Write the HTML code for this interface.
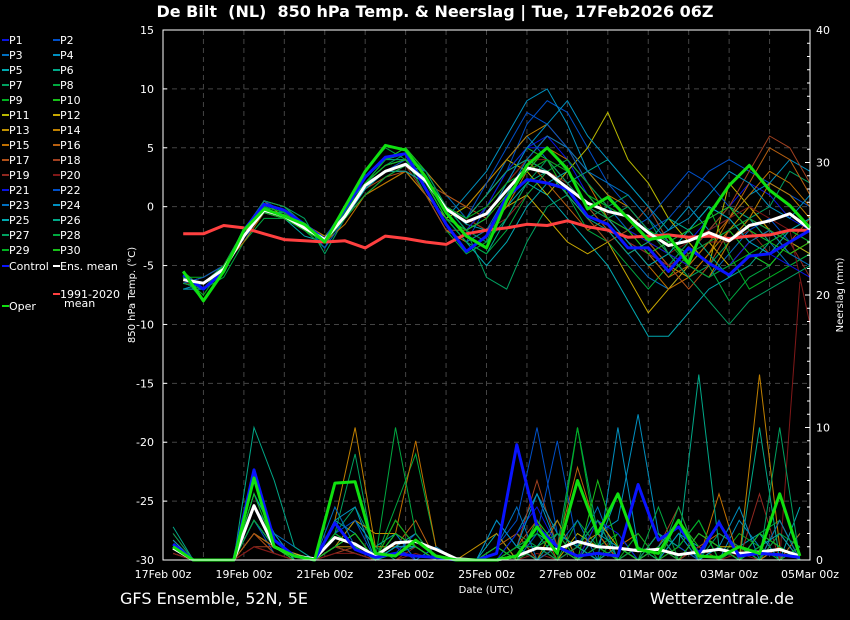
<!DOCTYPE html>
<html><head><meta charset="utf-8">
<style>
html,body{margin:0;padding:0;background:#000;}
#wrap{position:relative;width:850px;height:620px;background:#000;overflow:hidden;font-family:"DejaVu Sans","Liberation Sans",sans-serif;}
svg text{font-family:"DejaVu Sans","Liberation Sans",sans-serif;fill:#fff;}
</style></head>
<body>
<div id="wrap">
<svg id="chart" width="850" height="620" xmlns="http://www.w3.org/2000/svg">
<text x="435" y="17" text-anchor="middle" font-size="16" font-weight="bold" style="white-space:pre" xml:space="preserve">De Bilt  (NL)  850 hPa Temp. &amp; Neerslag | Tue, 17Feb2026 06Z</text>
<text x="120" y="604" font-size="16">GFS Ensemble, 52N, 5E</text>
<text x="794" y="604" font-size="16" text-anchor="end">Wetterzentrale.de</text>
<text x="486" y="593" font-size="10" text-anchor="middle">Date (UTC)</text>
<text transform="translate(135,295) rotate(-90)" font-size="10" text-anchor="middle">850 hPa Temp. (°C)</text>
<text transform="translate(843,295) rotate(-90)" font-size="10" text-anchor="middle">Neerslag (mm)</text>
<g id="grid"></g>
<g id="precip"></g>
<g id="temps"></g>
<g id="axes"></g>
<g id="legend"></g>
</svg>
</div>
<script>
// ---- data ----
const tempStartDay = 0.5;
const tempStepDay = 0.5;
const precipStartDay = 0.25;
const precipStepDay = 0.5;
const xTickLabels = ["17Feb 00z","19Feb 00z","21Feb 00z","23Feb 00z","25Feb 00z","27Feb 00z","01Mar 00z","03Mar 00z","05Mar 00z"];
const yTicks = [15,10,5,0,-5,-10,-15,-20,-25,-30];
const y2Ticks = [40,30,20,10,0];

const ensMean = [-6.2,-6.5,-5.3,-2.5,-0.3,-0.8,-1.8,-2.8,-0.8,1.8,3.0,3.6,2.2,-0.2,-1.3,-0.6,1.4,3.3,2.9,1.6,0.3,-0.4,-0.8,-2.2,-3.3,-2.9,-2.2,-2.9,-1.6,-1.2,-0.6,-1.9];
const control = [-5.8,-7,-5.5,-2,0.2,-0.3,-1.5,-2.8,-0.2,2.5,4.2,4.5,1.5,-1.5,-3.8,-2.5,0.8,2.3,2,1.5,-0.8,-1.5,-3.5,-3.5,-5.5,-3.5,-4.8,-5.8,-4.2,-4,-3,-2];
const oper = [-5.5,-8,-5.5,-2,-0.2,-0.8,-1.5,-3,0,3,5.2,4.8,2.5,-0.5,-2.5,-3.5,0.5,3.5,5,3.2,-0.2,0.8,-1,-2.8,-2.5,-4.8,-0.7,1.8,3.5,1.4,0.1,-1.8];
const climate = [-2.3,-2.3,-1.6,-1.8,-2.3,-2.8,-2.9,-3.0,-2.9,-3.5,-2.5,-2.7,-3.0,-3.2,-2.3,-2.0,-1.8,-1.5,-1.6,-1.2,-1.7,-2.0,-2.6,-2.5,-2.4,-2.6,-2.5,-2.7,-2.5,-2.4,-2.0,-2.0];

const P1=[-6,-7,-5,-2,0.5,-0.5,-2,-3,-0.5,2,4,4.5,2.5,0,-2,-1,2,5,6,4,1,-1,-3,-4,-5,-3,-1,0,2,1,-1,-2];
const P2=[-6.5,-6,-5,-3,0,-1,-1.5,-3,-1,2,3.5,4,1,-2,-3,0,3,7,9,8,5,2,0,-2,-1,1,3,4,3,2,1,0];
const P3=[-6,-7,-5.5,-2,-0.5,-0.5,-2,-2.5,-1,1.5,3,3.5,3,1,-1,1,4,6,4,2,0,-2,-4,-6,-7,-5,-6,-4,-2,-3,-5,-4];
const P4=[-7,-6.5,-5,-2.5,0,-1,-2,-3.5,0,2,3,3,1,-1,1,3,6,9,10,7,3,1,-1,-3,-2,0,-2,-1,1,2,4,3];
const P5=[-6,-6.5,-5,-2,0,-1,-2.5,-3,-1,1.5,3,3.5,2.5,0,-1.5,-2,0,2,1,-1,-3,-5,-8,-11,-11,-9,-7,-6,-4,-5,-3,-4];
const P6=[-6.5,-7,-5,-2.5,-0.5,-0.5,-1.5,-3,-0.5,2.5,4,4,2,-1,-3,-4,-1,2,3,2,3,4,2,0,-3,-4,-2,0,-1,-3,-2,-1];
const P7=[-6,-8,-5.5,-2,0.5,0,-1,-4,-1,2,4,5,3,0,-2,-6,-7,-3,0,1,-1,0,1,-1,-4,-6,-5,-3,-1,0,3,2];
const P8=[-7,-7,-6,-3,-1,-1,-2,-3,0,3,5,4,1,-2,-4,-3,1,4,3,1,-2,-3,-5,-7,-5,-3,-5,-8,-6,-5,-3,-2];
const P9=[-6,-6,-5,-2,0.5,-0.5,-2,-3.5,-1,2,3.5,4,2,-1,-2,-1,2,3,5,3,1,0,-2,-3,-4,-2,0,-4,-7,-6,-5,-4];
const P10=[-5.5,-7,-5,-2.5,0,-1,-2,-2.5,-0.5,2,4,5,3,0,-1,1,3,5,4,1,-1,-3,-2,-4,-6,-4,-3,-2,-4,-5,-3,-2];
const P11=[-6,-6.5,-5,-2.5,0.5,-1,-2,-3,-1,1,2,3,1,-1,0,2,4,3,1,3,5,8,4,2,-1,-3,-5,2,0,-2,-4,-3];
const P12=[-6.5,-7,-5.5,-2.5,0,-0.5,-1.5,-3,-1,1.5,3,3,2,0,-1,-2,0,1,-1,-3,-4,-3,-6,-9,-7,-5,-3,-5,-3,-2,-3,-4];
const P13=[-6,-6.5,-5,-2,0,-1,-2,-3,-1,1,2.5,3.5,2,-1,-2,0,2,4,6,5,2,0,-1,-3,-5,-6,-4,-2,0,-2,-4,-3];
const P14=[-6.5,-6,-5,-2,0.5,0,-1.5,-2.5,-1,2,3,4,3,1,0,2,4,6,7,5,3,1,0,-2,-4,-5,-6,-3,-1,2,1,-1];
const P15=[-6,-7,-5,-3,-0.5,-1,-2,-3,-1.5,1,2,3,1,-2,-3,-2,0,3,5,4,2,-1,-3,-5,-7,-6,-4,-1,1,3,2,0];
const P16=[-6,-6.5,-5.5,-2.5,0,-0.5,-2,-3,-1,2,3.5,4,2,0,-1,1,3,4,2,0,-2,-1,-3,-4,-6,-5,-3,-1,2,5,4,1];
const P17=[-6.5,-7,-5,-2,0,-1,-2,-3,-1,1.5,2.5,3,2,1,0,-1,1,3,4,2,0,-2,-4,-3,-5,-7,-5,-2,-1,-2,-3,-1];
const P18=[-6,-6.5,-5,-2.5,-0.5,-1,-2,-3,0,2,3,3.5,1,-2,-2,0,2,4,3,1,-1,-3,-2,0,-3,-4,-2,0,3,6,5,2];
const P19=[-6,-7,-5,-2,0,-0.5,-1.5,-3,-1,1.5,3,3.5,2,0,-1,-2,-1,1,3,2,0,-1,-3,-4,-5,-4,-3,-3,-2,-4,-3,-6];
const P20=[-6.5,-6.5,-5.5,-2.5,0,-1,-2,-3,-1,2,3,3,2,-1,-2,-1,2,4,4,3,1,-1,-2,-3,-4,-3,-2,-1,0,-1,-2,-10];
const P21=[-6,-7,-5.5,-2,0.5,-0.5,-2,-3,-0.5,2,3.5,4,2,-1,-2,0,3,5,5,3,1,-1,-2,-3,-4,-5,-6,-5,-3,-4,-5,-6];
const P22=[-6.5,-6,-5,-2.5,0,-1,-1.5,-3.5,-1,1.5,3,4,3,0,-1,2,5,8,7,5,2,0,-2,-1,1,3,2,0,-2,-1,-3,-2];
const P23=[-6,-6.5,-5,-2,0,-0.5,-2,-3,-1,2,4,4.5,2,-1,-3,-2,1,4,6,5,3,2,1,-1,-3,-2,0,-1,-3,-2,-4,-5];
const P24=[-7,-7,-5,-2.5,-0.5,-1,-2,-3,0,2,3,3.5,2,0,-2,-1,2,5,7,9,6,4,2,0,-2,-1,1,3,2,0,-1,1];
const P25=[-6,-6.5,-5.5,-2,0,-0.5,-2,-3,-1,1.5,3,3,2,-1,-3,-5,-3,0,2,3,1,-1,-3,-5,-4,-2,0,-1,-3,-4,-2,-1];
const P26=[-6.5,-7,-5,-2.5,0,-1,-2,-3,-0.5,2,3.5,4,2,0,-1,1,3,4,3,1,-1,-2,-4,-3,-1,-2,-4,-6,-5,-3,-2,-3];
const P27=[-6,-6.5,-5,-2,0.5,0,-1.5,-3,-1,2,3.5,4.5,3,0,-2,-3,-1,2,4,2,0,-1,0,-2,-4,-6,-8,-10,-8,-7,-6,-5];
const P28=[-6.5,-7,-5.5,-2.5,0,-1,-2,-3,-1,1,2.5,3.5,2,-1,-3,-4,-2,1,3,4,2,0,-1,-2,-3,-4,-3,-2,-1,-2,-3,-2];
const P29=[-6,-7.5,-5,-2,0,-0.5,-2,-3,-0.5,2,4,4.5,2.5,0,-1,0,2,3,4,3,1,0,-1,-2,-3,-5,-6,-5,-4,-3,-2,-3];
const P30=[-6,-7,-5,-2.5,-0.5,-1,-2,-3,-1,2,3.5,4,2,-1,-2,-1,1,3,5,3,1,-1,-2,-4,-3,-2,-1,0,-2,-3,-4,-3];
const members=[P1,P2,P3,P4,P5,P6,P7,P8,P9,P10,P11,P12,P13,P14,P15,P16,P17,P18,P19,P20,P21,P22,P23,P24,P25,P26,P27,P28,P29,P30];

const precipMean=[0.9,0,0,0,4.1,1,0.3,0.1,1.7,1.2,0.3,1.3,1.4,0.8,0.1,0,0,0.3,0.9,0.8,1.4,1.0,0.9,0.7,0.8,0.4,0.6,0.8,0.5,0.6,0.8,0.3];
const precipControl=[1.2,0,0,0,6.8,1.5,0.3,0,2.8,0.8,0.2,0.5,0.3,0.2,0,0,0.5,8.7,2.5,1,0.3,0.5,0.3,5.7,1.5,2.5,0.5,2.8,0.3,0.5,0.4,0.2];
const precipOper=[1.0,0,0,0,6.2,1,0.3,0,5.8,5.9,0.5,0.3,1.5,0.3,0,0,0,0.3,2.5,0.5,6.0,2,5,0.8,0.5,3,0.3,0.2,1,0.5,5,0.3];
const R1=[1,0,0,0,5,1,0,0,1,2,0,1,1,0,0,0,0,1,2,0,1,3,0,0,1,0,0,0,1,0,2,0];
const R2=[0.5,0,0,0,3,0.5,0,0,2,1,0,0.5,2,0,0,0,1,3,10,2,1,0,1,0,2,1,0,3,0,1,0,1];
const R3=[1,0,0,0,4,2,1,0,1,0.5,0,1,0,1,0,0,3,1,0,2,1,4,0,1,0,1,3,0,1,0,1,0];
const R4=[0.5,0,0,0,2,1,0,0,3,2,0,1,1,0,0,0,0,2,5,1,0,2,3,11,2,0,1,0,3,1,0,2];
const R5=[1,0,0,0,3,1,0.5,0,1,3,1,2,0,0,0,0,2,0,1,3,0,1,5,1,0,2,1,0,1,2,0,4];
const R6=[2.5,0,0,0,10,6,1,0,2,1,0,0.5,1,0,0,0,0,1,0,2,1,3,0,0,1,0,0,1,0,10,0,2];
const R7=[1,0,0,0,3,1,0,0,2,4,1,0,0,0,0,0,1,0,3,1,10,2,0,1,0,2,0,0,1,0,1,0];
const R8=[0.5,0,0,0,5,2,0,0,1,2,0,4,8,1,0,0,0,2,1,0,3,1,2,0,4,0,1,0,0,2,3,0];
const R9=[1,0,0,0,4,1,0,0,1,2,0,3,1,0,0,0,1,0,2,1,0,0,2,0,0,1,3,0,2,1,0,1];
const R10=[0.5,0,0,0,2,1,0,0,1,1,0,2,1,0,0,0,0,1,1,2,0,1,0,1,0,3,1,0,0,2,1,0];
const R11=[1,0,0,0,3,1,0,0,1,0.5,0,1,2,0,0,0,0,0,1,0,2,1,0,1,0,0,2,1,0,0,3,0];
const R12=[1.5,0,0,0,4,1,0.5,0,2,1,0,3,1,0,0,0,0,1,0,1,0,3,1,0,2,0,0,1,1,0,0,1];
const R13=[1,0,0,0,2,1,0,0,1,3,2,2,1,0,0,1,2,0,1,0,1,2,0,0,1,3,0,1,0,0,1,0];
const R14=[2,0,0,0,6,1,0,0,3,10,1,1,1,0,0,0,0,1,0,3,0,2,0,0,1,0,2,1,0,14,1,0];
const R15=[1,0,0,0,3,1,0,0,1,2,0,2,9,1,0,0,0,0,1,2,0,0,1,2,0,1,0,5,0,0,1,0];
const R16=[1,0,0,0,2,1,0,0,1,1,0,1,3,0,0,0,1,2,0,1,7,2,0,1,0,0,1,2,1,0,0,2];
const R17=[0.5,0,0,0,2,0.5,0,0,1,2,0,1,0,0,0,0,0,1,3,0,1,0,1,0,2,0,1,0,0,1,0,0];
const R18=[1,0,0,0,1,1,0,0,0.5,1,0,1,0,0,0,0,0,1,6,1,0,1,0,0,1,4,0,0,1,0,2,0];
const R19=[0.5,0,0,0,1,0.5,0,0,1,0.5,0,0,1,0,0,0,0,0,1,0,0,1,0,0,2,0,1,0,0,5,0,1];
const R20=[0.5,0,0,0,1,0.5,0,0,0.5,0.5,0,0,0.5,0,0,0,0,0,0.5,0,1,0,0,0,1,0,0,0,0.5,0,0,21];
const R21=[1,0,0,0,4,1,0,0,1,2,0,1,0,0,0,0,0,2,4,1,0,3,2,0,1,0,0,1,0,2,1,0];
const R22=[1,0,0,0,3,1,0,0,2,3,0,1,1,0,0,0,1,0,2,9,1,0,1,0,2,1,0,3,0,1,0,1];
const R23=[1,0,0,0,5,2,0,0,4,1,0,2,0,1,0,0,1,4,0,1,3,0,0,1,0,0,2,1,0,0,3,0];
const R24=[1.5,0,0,0,5,2,0,0,3,4,0,1,2,0,0,0,3,1,5,2,1,0,10,1,0,2,0,1,4,0,0,1];
const R25=[1,0,0,0,4,1,0,0,2,1,0,1,1,0,0,0,0,1,2,1,0,2,1,0,1,3,0,1,0,1,2,0];
const R26=[1,0,0,0,3,1,0,0,1,2,0,2,1,0,0,0,0,1,0,2,1,0,1,0,2,1,14,1,0,2,1,0];
const R27=[2,0,0,0,4,1,0,0,2,8,0,2,1,0,0,0,0,1,1,0,1,3,0,0,2,0,0,2,1,0,10,0];
const R28=[1,0,0,0,3,1,0,0,1,2,0,10,2,0,0,0,0,0,1,2,0,1,0,1,0,4,0,0,1,0,2,1];
const R29=[1,0,0,0,4,1,0,0,2,1,0,3,1,0,0,0,0,1,2,0,10,1,0,2,0,1,3,0,0,1,0,1];
const R30=[1,0,0,0,5,1,0,0,1,2,0,2,1,0,0,0,1,0,3,1,0,6,1,0,1,0,2,1,0,2,1,0];
const precipMembers=[R1,R2,R3,R4,R5,R6,R7,R8,R9,R10,R11,R12,R13,R14,R15,R16,R17,R18,R19,R20,R21,R22,R23,R24,R25,R26,R27,R28,R29,R30];

const memberColors=["#0a14e0","#0050c8","#0070c0","#0090c0","#00a8b0","#00a888","#00a060","#00a840","#00b020","#18c018","#b8b800","#c8a800","#c09000","#c08000","#c07000","#b86010","#b05018","#a04020","#902820","#801818"];

// ---- scales ----
const X0=163,X1=810,Y0=30,Y1=560,DAYS=16;
function xDay(d){return X0+(X1-X0)*d/DAYS;}
function yT(t){return Y0+(15-t)*(Y1-Y0)/45;}
function yP(p){return Y1-p*(Y1-Y0)/40;}
const NS="http://www.w3.org/2000/svg";
function mk(tag,attrs,parent){const e=document.createElementNS(NS,tag);for(const k in attrs)e.setAttribute(k,attrs[k]);parent.appendChild(e);return e;}
function tPath(arr){return arr.map((v,i)=>(i?'L':'M')+xDay(tempStartDay+i*tempStepDay).toFixed(1)+','+yT(v).toFixed(1)).join('');}
function pPath(arr){return arr.map((v,i)=>(i?'L':'M')+xDay(precipStartDay+i*precipStepDay).toFixed(1)+','+yP(v).toFixed(1)).join('');}

const grid=document.getElementById('grid');
for(let d=1;d<DAYS;d++){
  const l=mk('line',{x1:xDay(d),x2:xDay(d),y1:Y0,y2:Y1,stroke:'#444','stroke-dasharray':'5,4','stroke-width':1},grid);
  
  
}
yTicks.forEach(t=>{
  if(t===15||t===-30)return;
  const l=mk('line',{x1:X0,x2:X1,y1:yT(t),y2:yT(t),stroke:'#444','stroke-dasharray':'5,4','stroke-width':1},grid);
  
  
});

const pg=document.getElementById('precip');
precipMembers.forEach((arr,i)=>{
  const p=mk('path',{d:pPath(arr),fill:'none',stroke:memberColors[i%20],'stroke-width':1},pg);
  
  
});
[[precipMean,'#ffffff','precip-ens-mean'],[precipControl,'#0a14ff','precip-control'],[precipOper,'#10e010','precip-oper']].forEach(s=>{
  const p=mk('path',{d:pPath(s[0]),fill:'none',stroke:s[1],'stroke-width':3,'stroke-linejoin':'round'},pg);
  
  
});

const tg=document.getElementById('temps');
members.forEach((arr,i)=>{
  const p=mk('path',{d:tPath(arr),fill:'none',stroke:memberColors[i%20],'stroke-width':1},tg);
  
  
});
[[climate,'#ff4040','climate-mean-line'],[control,'#0a14ff','control-line'],[ensMean,'#ffffff','ens-mean-line'],[oper,'#10e010','oper-line']].forEach(s=>{
  const p=mk('path',{d:tPath(s[0]),fill:'none',stroke:s[1],'stroke-width':3,'stroke-linejoin':'round'},tg);
  
  
});

const ax=document.getElementById('axes');
const frame=mk('rect',{x:X0,y:Y0,width:X1-X0,height:Y1-Y0,fill:'none',stroke:'#fff','stroke-width':1},ax);


yTicks.forEach(t=>{
  const tx=mk('text',{x:154,y:yT(t)+4,'font-size':11,'text-anchor':'end'},ax);
  tx.textContent=t;
  
  
  mk('line',{x1:X0,x2:X0+4,y1:yT(t),y2:yT(t),stroke:'#fff'},ax);
});
for(let p=0;p<=40;p++){
  mk('line',{x1:X1,x2:X1-(p%10===0?5:3),y1:yP(p),y2:yP(p),stroke:'#fff'},ax);
}
y2Ticks.forEach(p=>{
  const tx=mk('text',{x:816,y:yP(p)+4,'font-size':11},ax);
  tx.textContent=p;
  
  
});
xTickLabels.forEach((lab,i)=>{
  const tx=mk('text',{x:xDay(i*2),y:578,'font-size':11,'text-anchor':'middle'},ax);
  tx.textContent=lab;
  
  
});

const lg=document.getElementById('legend');
const legendNames=[];
for(let i=1;i<=30;i++)legendNames.push('P'+i);
legendNames.forEach((n,i)=>{
  const col=i%2, row=Math.floor(i/2);
  const x=col?53:2, y=39+row*15;
  const c=memberColors[i%20];
  const l=mk('line',{x1:x,x2:x+7,y1:y+1,y2:y+1,stroke:c,'stroke-width':2},lg);
  
  
  const t=mk('text',{x:x+7,y:y+5,'font-size':11},lg);
  t.textContent=n;
  
  
});
[['Control','#0a14ff',2,265],['Ens. mean','#ffffff',53,265],['1991-2020','#ff4040',53,293],['Oper','#10e010',2,305]].forEach(e=>{
  const l=mk('line',{x1:e[2],x2:e[2]+7,y1:e[3]+1,y2:e[3]+1,stroke:e[1],'stroke-width':2},lg);
  
  
  const t=mk('text',{x:e[2]+7,y:e[3]+5,'font-size':11},lg);
  t.textContent=e[0];
  
  
});
const mt=mk('text',{x:64,y:307,'font-size':11},lg);
mt.textContent='mean';


</script>
</body></html>
